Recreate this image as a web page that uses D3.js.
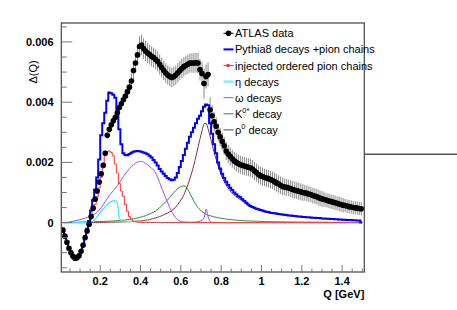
<!DOCTYPE html>
<html>
<head>
<meta charset="utf-8">
<script src="https://cdn.jsdelivr.net/npm/d3@7"></script>
<style>
  body { margin: 0; background: #fff; }
  svg { display: block; }
  text { font-family: "Liberation Sans", Arial, sans-serif; }
</style>
</head>
<body>
<div id="chart"></div>
<script>
// bins of width 0.01 GeV from 0.01 to 1.50, values in units of 1e-3
const binLo = 0.01, binW = 0.01;

const atlas = [
  -0.25,-0.45,-0.65,-0.85,-1.0,-1.12,-1.18,-1.17,-1.1,-0.95,
  -0.75,-0.5,-0.28,-0.05,0.2,0.48,0.78,1.05,1.35,1.62,
  1.9,2.3,2.9,3.1,3.25,3.38,3.5,3.65,3.82,3.95,
  4.08,4.2,4.35,4.5,4.7,5.05,5.3,5.57,5.85,5.9,
  5.78,5.7,5.63,5.58,5.52,5.48,5.42,5.35,5.25,5.15,
  5.05,4.97,4.9,4.85,4.82,4.85,4.9,4.98,5.05,5.12,
  5.18,5.22,5.26,5.3,5.3,5.3,5.31,5.3,5.08,4.95,
  4.62,4.85,4.92,3.75,3.55,3.35,3.2,3.0,2.85,2.7,
  2.55,2.38,2.28,2.2,2.12,2.05,2.0,1.96,1.92,1.9,
  1.88,1.86,1.84,1.82,1.78,1.72,1.66,1.6,1.56,1.53,
  1.5,1.48,1.46,1.43,1.4,1.36,1.32,1.28,1.24,1.2,
  1.18,1.17,1.15,1.13,1.1,1.08,1.06,1.04,1.02,1.0,
  0.99,0.97,0.95,0.93,0.9,0.88,0.86,0.83,0.8,0.78,
  0.76,0.74,0.72,0.7,0.68,0.66,0.64,0.62,0.6,0.58,
  0.57,0.55,0.53,0.52,0.5,0.49,0.48,0.47,0.46
];
const atlasErr = [
  0.06,0.06,0.06,0.06,0.06,0.06,0.06,0.06,0.06,0.06,
  0.06,0.06,0.06,0.07,0.07,0.08,0.08,0.08,0.09,0.09,
  0.1,0.1,0.12,0.12,0.12,0.13,0.13,0.14,0.14,0.15,
  0.16,0.18,0.2,0.22,0.25,0.28,0.3,0.32,0.34,0.34,
  0.34,0.34,0.34,0.33,0.33,0.33,0.33,0.33,0.33,0.33,
  0.32,0.32,0.32,0.32,0.32,0.32,0.32,0.32,0.32,0.32,
  0.32,0.32,0.32,0.32,0.32,0.33,0.33,0.34,0.36,0.38,
  0.5,0.4,0.4,0.42,0.35,0.32,0.3,0.3,0.3,0.3,
  0.3,0.3,0.3,0.3,0.3,0.3,0.3,0.3,0.3,0.3,
  0.3,0.3,0.3,0.3,0.3,0.3,0.3,0.3,0.3,0.3,
  0.29,0.29,0.29,0.29,0.29,0.29,0.29,0.29,0.29,0.29,
  0.28,0.28,0.28,0.28,0.28,0.28,0.28,0.28,0.28,0.28,
  0.26,0.26,0.26,0.26,0.26,0.26,0.26,0.26,0.26,0.26,
  0.24,0.24,0.24,0.24,0.24,0.24,0.24,0.24,0.24,0.24,
  0.22,0.22,0.22,0.22,0.22,0.22,0.22,0.22,0.22
];
const pythia = [
  -0.2,-0.42,-0.63,-0.83,-1.0,-1.12,-1.18,-1.17,-1.08,-0.92,
  -0.7,-0.45,-0.2,0.05,0.4,0.75,1.1,1.5,2.1,2.9,
  3.3,3.65,4.05,4.32,4.3,4.25,4.15,3.7,3.1,2.6,
  2.3,2.25,2.24,2.28,2.32,2.35,2.37,2.38,2.37,2.35,
  2.33,2.3,2.27,2.22,2.16,2.08,2.0,1.9,1.78,1.7,
  1.62,1.55,1.48,1.44,1.41,1.42,1.5,1.65,1.85,2.05,
  2.25,2.45,2.65,2.85,3.0,3.15,3.3,3.45,3.55,3.7,
  3.85,3.92,3.9,3.3,2.95,2.6,2.3,2.0,1.8,1.62,
  1.48,1.36,1.25,1.16,1.08,1.0,0.94,0.88,0.84,0.78,
  0.72,0.66,0.6,0.55,0.52,0.49,0.46,0.44,0.42,0.4,
  0.38,0.36,0.35,0.33,0.32,0.31,0.3,0.29,0.28,0.27,
  0.26,0.25,0.24,0.235,0.23,0.22,0.21,0.205,0.2,0.19,
  0.185,0.18,0.175,0.17,0.165,0.16,0.155,0.15,0.145,0.14,
  0.135,0.13,0.125,0.12,0.118,0.115,0.11,0.105,0.1,0.097,
  0.094,0.09,0.087,0.084,0.08,0.077,0.074,0.071,0
];
const injected = [
  -0.22,-0.45,-0.66,-0.86,-1.02,-1.15,-1.22,-1.22,-1.13,-0.97,
  -0.76,-0.52,-0.27,-0.02,0.22,0.42,0.6,0.85,1.15,1.5,
  1.95,2.25,2.35,2.38,2.33,2.22,1.95,1.65,1.3,1.05,
  0.88,0.6,0.38,0.2,0.1,0.05,0.03,0.02,0.01,0.005,
  0,0,0,0,0,0,0,0,0,0, 0,0,0,0,0,0,0,0,0,0,
  0,0,0,0,0,0,0,0,0,0, 0,0,0,0,0,0,0,0,0,0,
  0,0,0,0,0,0,0,0,0,0, 0,0,0,0,0,0,0,0,0,0,
  0,0,0,0,0,0,0,0,0,0, 0,0,0,0,0,0,0,0,0,0,
  0,0,0,0,0,0,0,0,0,0, 0,0,0,0,0,0,0,0,0,0,
  0,0,0,0,0,0,0,0,0
];
const etaDecays = [
  0,0,0,0,0,0,0,0,0,0,
  0,0,0,0,0.01,0.05,0.12,0.2,0.28,0.38,
  0.46,0.53,0.6,0.66,0.7,0.73,0.72,0.65,0.15,0.06,
  0.04,0.04,0.04,0.04,0.04,0.035,0.03,0.03,0.025,0.02,
  0.02,0.02,0.015,0.015,0.01,0.01,0.01,0.005,0.005,0,
  0,0,0,0,0,0,0,0,0,0, 0,0,0,0,0,0,0,0,0,0,
  0,0,0,0,0,0,0,0,0,0, 0,0,0,0,0,0,0,0,0,0,
  0,0,0,0,0,0,0,0,0,0, 0,0,0,0,0,0,0,0,0,0,
  0,0,0,0,0,0,0,0,0,0, 0,0,0,0,0,0,0,0,0,0,
  0,0,0,0,0,0,0,0,0,0, 0,0,0,0,0,0,0,0,0
];
const omegaDecays = [
  0,0.005,0.01,0.02,0.03,0.045,0.06,0.075,0.09,0.11,
  0.13,0.15,0.17,0.2,0.23,0.26,0.3,0.35,0.42,0.5,
  0.6,0.7,0.8,0.9,0.98,1.06,1.14,1.22,1.32,1.42,
  1.53,1.62,1.71,1.79,1.86,1.92,1.97,2.01,2.03,2.03,
  2.01,1.97,1.92,1.86,1.8,1.75,1.65,1.5,1.33,1.15,
  0.98,0.82,0.66,0.5,0.36,0.25,0.16,0.09,0.05,0.03,
  0.02,0.02,0.015,0.015,0.015,0.015,0.02,0.03,0.05,0.08,
  0.15,0.45,0.2,0.03,0.01,0.01,0.005,0.005,0.005,0.005,
  0,0,0,0,0,0,0,0,0,0, 0,0,0,0,0,0,0,0,0,0,
  0,0,0,0,0,0,0,0,0,0, 0,0,0,0,0,0,0,0,0,0,
  0,0,0,0,0,0,0,0,0,0, 0,0,0,0,0,0,0,0,0,0,
  0,0,0,0,0,0,0,0,0
];
const kstarDecay = [
  0,0,0,0.005,0.005,0.01,0.01,0.01,0.015,0.015,
  0.02,0.02,0.02,0.025,0.025,0.03,0.03,0.035,0.035,0.04,
  0.04,0.045,0.045,0.05,0.05,0.055,0.06,0.065,0.07,0.075,
  0.08,0.09,0.1,0.11,0.12,0.13,0.14,0.155,0.17,0.19,
  0.21,0.23,0.26,0.29,0.32,0.35,0.39,0.44,0.5,0.56,
  0.62,0.69,0.76,0.84,0.92,1.0,1.07,1.13,1.18,1.21,
  1.22,1.19,1.1,0.97,0.84,0.71,0.6,0.5,0.43,0.37,
  0.32,0.28,0.25,0.23,0.21,0.19,0.18,0.16,0.15,0.14,
  0.13,0.12,0.11,0.1,0.095,0.09,0.08,0.075,0.07,0.065,
  0.06,0.058,0.055,0.052,0.05,0.048,0.045,0.043,0.04,0.038,
  0.036,0.035,0.033,0.032,0.03,0.029,0.028,0.027,0.026,0.025,
  0.024,0.023,0.022,0.021,0.02,0.02,0.019,0.018,0.018,0.017,
  0.016,0.016,0.015,0.015,0.014,0.014,0.013,0.013,0.012,0.012,
  0.012,0.011,0.011,0.011,0.01,0.01,0.01,0.01,0.009,0.009,
  0.009,0.009,0.008,0.008,0.008,0.008,0.007,0.007,0.007
];
const rhoDecay = [
  0,0,0,0,0,0,0,0,0,0,
  0,0,0,0,0,0,0,0,0,0.005,
  0.005,0.01,0.01,0.01,0.015,0.015,0.015,0.02,0.02,0.02,
  0.025,0.025,0.03,0.03,0.035,0.04,0.045,0.05,0.055,0.06,
  0.07,0.08,0.09,0.1,0.12,0.14,0.16,0.18,0.2,0.23,
  0.26,0.29,0.32,0.36,0.4,0.45,0.52,0.6,0.7,0.8,
  0.92,1.08,1.26,1.46,1.68,1.92,2.2,2.5,2.78,3.05,
  3.28,3.3,3.12,2.88,2.6,2.34,2.1,1.88,1.68,1.5,
  1.36,1.24,1.14,1.05,0.98,0.92,0.86,0.81,0.77,0.72,
  0.67,0.62,0.57,0.53,0.5,0.47,0.44,0.42,0.4,0.38,
  0.36,0.345,0.33,0.315,0.305,0.295,0.285,0.275,0.265,0.255,
  0.245,0.235,0.228,0.22,0.215,0.205,0.198,0.19,0.185,0.178,
  0.172,0.167,0.162,0.157,0.152,0.147,0.142,0.137,0.133,0.128,
  0.123,0.119,0.115,0.11,0.108,0.105,0.1,0.096,0.092,0.089,
  0.086,0.082,0.08,0.077,0.073,0.07,0.067,0.064,0.062
];

const xTicks = [0.2, 0.4, 0.6, 0.8, 1.0, 1.2, 1.4];
const xTickLabels = ['0.2', '0.4', '0.6', '0.8', '1', '1.2', '1.4'];
const yTicks = [0, 2, 4, 6];
const yTickLabels = ['0', '0.002', '0.004', '0.006'];

const width = 457, height = 310;
const frame = { left: 61.3, right: 364.3, top: 23, bottom: 272 };

const svg = d3.select('#chart').append('svg')
  .attr('width', width)
  .attr('height', height);

const x = d3.scaleLinear().domain([0.007, 1.51]).range([frame.left, frame.right]);
const y = d3.scaleLinear().domain([-1.64, 6.63]).range([frame.bottom, frame.top]);

const center = i => binLo + binW * (i + 0.5);

svg.append('defs').append('clipPath').attr('id', 'clip')
  .append('rect')
  .attr('x', frame.left).attr('y', frame.top)
  .attr('width', frame.right - frame.left).attr('height', frame.bottom - frame.top);

const plot = svg.append('g').attr('clip-path', 'url(#clip)');

// step histograms (bin edges)
const stepLine = d3.line().x(d => x(d[0])).y(d => y(d[1]));
const toSteps = vals => vals.flatMap((v, i) => [[binLo + binW * i, v], [binLo + binW * (i + 1), v]]);
// smooth curves through bin centres
const smoothLine = d3.line().x(d => x(d[0])).y(d => y(d[1])).curve(d3.curveMonotoneX);
const toPts = vals => vals.map((v, i) => [center(i), v]);

const curves = [
  { vals: rhoDecay, color: '#8e2f2f', w: 1, smooth: true },
  { vals: kstarDecay, color: '#2f8a2f', w: 1, smooth: true },
  { vals: omegaDecays, color: '#a347ff', w: 1, smooth: true },
  { vals: etaDecays, color: '#2ef2f2', w: 1.2, smooth: true },
  { vals: injected, color: '#ff3030', w: 1, smooth: false },
  { vals: pythia, color: '#0000ff', w: 2, smooth: false }
];

// data error bars
plot.append('g').selectAll('line')
  .data(atlas)
  .join('line')
  .attr('x1', (d, i) => x(center(i)))
  .attr('x2', (d, i) => x(center(i)))
  .attr('y1', (d, i) => y(d - atlasErr[i]))
  .attr('y2', (d, i) => y(d + atlasErr[i]))
  .attr('stroke', '#8a8a8a')
  .attr('stroke-width', 1);

plot.append('g').selectAll('path')
  .data(curves)
  .join('path')
  .attr('d', c => c.smooth ? smoothLine(toPts(c.vals)) : stepLine(toSteps(c.vals)))
  .attr('fill', 'none')
  .attr('stroke', c => c.color)
  .attr('stroke-width', c => c.w);

plot.append('g').selectAll('circle')
  .data(atlas)
  .join('circle')
  .attr('cx', (d, i) => x(center(i)))
  .attr('cy', d => y(d))
  .attr('r', 2.8)
  .attr('fill', '#000');

// frame
svg.append('rect')
  .attr('x', frame.left).attr('y', frame.top)
  .attr('width', frame.right - frame.left).attr('height', frame.bottom - frame.top)
  .attr('fill', 'none')
  .attr('stroke', '#444')
  .attr('stroke-width', 1.2);

// stray line on the right
svg.append('line')
  .attr('x1', frame.right).attr('x2', width)
  .attr('y1', 154.3).attr('y2', 154.3)
  .attr('stroke', '#555')
  .attr('stroke-width', 1.6);

// y axis ticks
const yMinor = d3.range(-1.5, 6.51, 0.5).filter(v => !yTicks.includes(v));
svg.append('g').selectAll('line')
  .data(yMinor)
  .join('line')
  .attr('x1', frame.left).attr('x2', frame.left + 5.5)
  .attr('y1', d => y(d)).attr('y2', d => y(d))
  .attr('stroke', '#777');
svg.append('g').selectAll('line')
  .data(yTicks)
  .join('line')
  .attr('x1', frame.left).attr('x2', frame.left + 11)
  .attr('y1', d => y(d)).attr('y2', d => y(d))
  .attr('stroke', '#777');
svg.append('g').selectAll('text')
  .data(yTicks)
  .join('text')
  .attr('x', 53.5)
  .attr('y', d => y(d) + 4)
  .attr('text-anchor', 'end')
  .attr('font-size', 11)
  .attr('font-weight', 'bold')
  .text((d, i) => yTickLabels[i]);

// x axis ticks
const xMinor = d3.range(0.05, 1.501, 0.05).filter(v => !xTicks.some(t => Math.abs(t - v) < 1e-6));
svg.append('g').selectAll('line')
  .data(xMinor)
  .join('line')
  .attr('x1', d => x(d)).attr('x2', d => x(d))
  .attr('y1', frame.bottom).attr('y2', frame.bottom - 3.5)
  .attr('stroke', '#777');
svg.append('g').selectAll('line')
  .data(xTicks)
  .join('line')
  .attr('x1', d => x(d)).attr('x2', d => x(d))
  .attr('y1', frame.bottom).attr('y2', frame.bottom - 7)
  .attr('stroke', '#777');
svg.append('g').selectAll('text')
  .data(xTicks)
  .join('text')
  .attr('x', d => x(d))
  .attr('y', 285)
  .attr('text-anchor', 'middle')
  .attr('font-size', 11)
  .attr('font-weight', 'bold')
  .text((d, i) => xTickLabels[i]);

// axis titles
svg.append('text')
  .attr('x', frame.right)
  .attr('y', 297.5)
  .attr('text-anchor', 'end')
  .attr('font-size', 11)
  .attr('font-weight', 'bold')
  .text('Q [GeV]');
svg.append('text')
  .attr('transform', 'translate(37,72) rotate(-90)')
  .attr('text-anchor', 'middle')
  .attr('font-size', 11)
  .text('Δ(Q)');

// legend
const legendItems = [
  { label: 'ATLAS data', color: '#000', marker: 'circle' },
  { label: 'Pythia8 decays +pion chains', color: '#0000ff', w: 2 },
  { label: 'injected ordered pion chains', color: '#ff3030', marker: 'square' },
  { label: 'η decays', color: '#7ff5f5', w: 2.5 },
  { label: 'ω decays', color: '#a347ff' },
  { label: 'K', sup: '0*', rest: ' decay', color: '#2f8a2f' },
  { label: 'ρ', sup: '0', rest: ' decay', color: '#8e2f2f' }
];
const leg = svg.append('g').selectAll('g')
  .data(legendItems)
  .join('g')
  .attr('transform', (d, i) => `translate(0, ${33.3 + i * 16.1})`);
leg.append('line')
  .attr('x1', 223.5).attr('x2', 233.5)
  .attr('stroke', d => d.color)
  .attr('stroke-width', d => d.w || 1);
leg.filter(d => d.marker === 'circle').append('circle')
  .attr('cx', 228.5).attr('r', 2.8).attr('fill', '#000');
leg.filter(d => d.marker === 'square').append('rect')
  .attr('x', 226.5).attr('y', -1.5).attr('width', 3).attr('height', 3).attr('fill', '#ff3030');
const lt = leg.append('text')
  .attr('x', 235)
  .attr('y', 4)
  .attr('font-size', 11);
lt.append('tspan').text(d => d.label);
lt.filter(d => d.sup).append('tspan')
  .attr('dy', -5).attr('font-size', 7.5)
  .text(d => d.sup);
lt.filter(d => d.sup).append('tspan')
  .attr('dy', 5)
  .text(d => d.rest);
</script>
</body>
</html>
